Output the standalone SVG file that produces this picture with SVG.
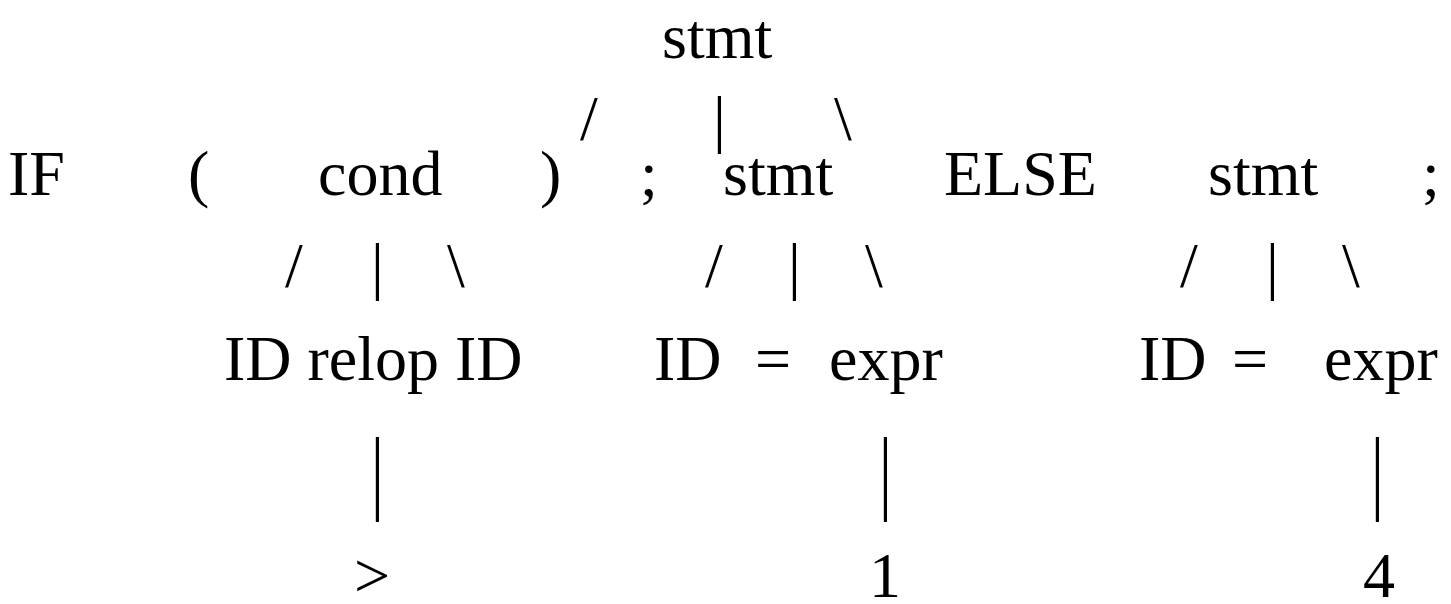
<svg xmlns="http://www.w3.org/2000/svg" width="1451" height="604" viewBox="0 0 1451 604">
<style>
text{font-family:"Liberation Serif","Times New Roman",serif;font-size:64px;fill:#000}
</style>
<rect width="1451" height="604" fill="#fff"/>
<g id="root"><text x="662" y="58">stmt</text></g>
<g id="row2">
<g id="if"><text x="8" y="195">IF</text></g>
<g id="lp"><text x="188" y="195">(</text></g>
<g id="cond"><text x="318" y="195">cond</text></g>
<g id="rp"><text x="540" y="195">)</text></g>
<g id="semi1"><text x="640" y="195">;</text></g>
<g id="stmt1"><text x="723" y="195">stmt</text></g>
<g id="else"><text x="944" y="195">ELSE</text></g>
<g id="stmt2"><text x="1208" y="195">stmt</text></g>
<g id="semi2"><text x="1422" y="195">;</text></g>
</g>
<g id="row4">
<g id="condkids"><text x="224" y="380">ID relop ID</text></g>
<g id="id1"><text x="654" y="380">ID</text></g>
<g id="eq1"><text x="755" y="380">=</text></g>
<g id="expr1"><text x="829" y="380">expr</text></g>
<g id="id2"><text x="1139" y="380">ID</text></g>
<g id="eq2"><text x="1232" y="380">=</text></g>
<g id="expr2"><text x="1324" y="380">expr</text></g>
</g>
<g id="row6">
<g id="gt"><text x="354" y="597">&gt;</text></g>
<g id="one"><text x="869" y="597">1</text></g>
<g id="four"><text x="1363" y="597">4</text></g>
</g>
<g id="connectors">
<text x="580" y="140">/</text><text x="713" y="140">|</text><text x="834" y="140">\</text>
<text x="285" y="287">/</text><text x="371" y="287">|</text><text x="447" y="287">\</text>
<text x="705" y="287">/</text><text x="788" y="287">|</text><text x="865" y="287">\</text>
<text x="1180" y="287">/</text><text x="1266" y="287">|</text><text x="1342" y="287">\</text>
<g transform="translate(0,502) scale(1,1.44)"><text x="371" y="0">|</text><text x="879" y="0">|</text><text x="1371" y="0">|</text></g>
</g>
</svg>
